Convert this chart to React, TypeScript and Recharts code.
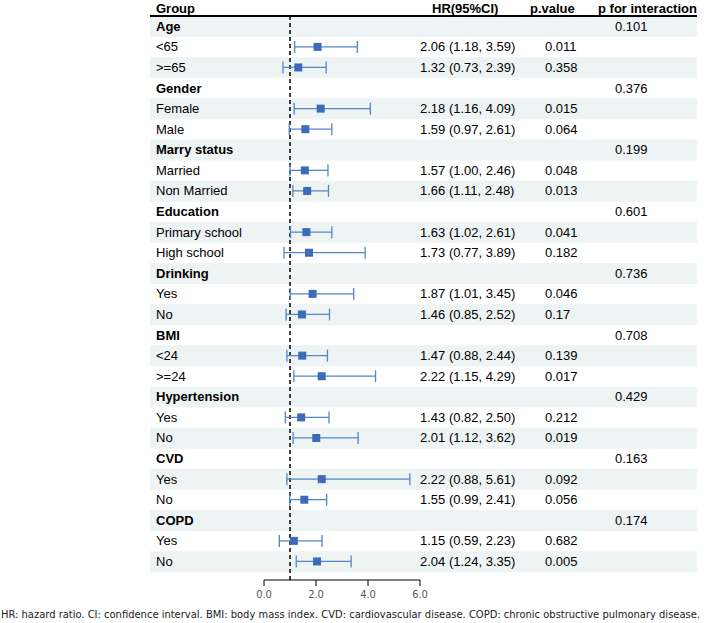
import React from 'react';
import { ComposedChart, Scatter, XAxis, YAxis, ZAxis, ErrorBar, ReferenceLine } from 'recharts';

const groupNames = ['Age', 'Gender', 'Marry status', 'Education', 'Drinking', 'BMI', 'Hypertension', 'CVD', 'COPD'];
const pInteraction = ['0.101', '0.376', '0.199', '0.601', '0.736', '0.708', '0.429', '0.163', '0.174'];
const subLabels = ['<65', '>=65', 'Female', 'Male', 'Married', 'Non Married', 'Primary school', 'High school', 'Yes', 'No', '<24', '>=24', 'Yes', 'No', 'Yes', 'No', 'Yes', 'No'];
const hrValues = [2.06, 1.32, 2.18, 1.59, 1.57, 1.66, 1.63, 1.73, 1.87, 1.46, 1.47, 2.22, 1.43, 2.01, 2.22, 1.55, 1.15, 2.04];
const lowerCI = [1.18, 0.73, 1.16, 0.97, 1.0, 1.11, 1.02, 0.77, 1.01, 0.85, 0.88, 1.15, 0.82, 1.12, 0.88, 0.99, 0.59, 1.24];
const upperCI = [3.59, 2.39, 4.09, 2.61, 2.46, 2.48, 2.61, 3.89, 3.45, 2.52, 2.44, 4.29, 2.5, 3.62, 5.61, 2.41, 2.23, 3.35];
const pValues = ['0.011', '0.358', '0.015', '0.064', '0.048', '0.013', '0.041', '0.182', '0.046', '0.17', '0.139', '0.017', '0.212', '0.019', '0.092', '0.056', '0.682', '0.005'];
const xTicks = [0, 2, 4, 6];
const footnote = 'HR: hazard ratio. CI: confidence interval. BMI: body mass index. CVD: cardiovascular disease. COPD: chronic obstructive pulmonary disease.';

type Row = { idx: number; label: string; isGroup: boolean; pint?: string; hrText?: string; p?: string };

const rows: Row[] = [];
const points: { y: number; hr: number; err: number[] }[] = [];
groupNames.forEach((g, gi) => {
  rows.push({ idx: rows.length, label: g, isGroup: true, pint: pInteraction[gi] });
  for (let k = 0; k < 2; k++) {
    const s = gi * 2 + k;
    const idx = rows.length;
    rows.push({
      idx,
      label: subLabels[s],
      isGroup: false,
      hrText: `${hrValues[s].toFixed(2)} (${lowerCI[s].toFixed(2)}, ${upperCI[s].toFixed(2)})`,
      p: pValues[s],
    });
    points.push({ y: idx, hr: hrValues[s], err: [hrValues[s] - lowerCI[s], upperCI[s] - hrValues[s]] });
  }
});
const rowTicks = rows.map((r) => r.idx);

const FONT = '"Liberation Sans", Arial, sans-serif';
const NARROW = '"Liberation Sans Narrow", "DejaVu Sans Condensed", sans-serif';
const ROW_H = 20.58;
const MARGIN = { top: 16, right: 286, bottom: 18, left: 0 };

const ShadeTick = (props: any) => {
  const { y, payload } = props;
  const row = rows[payload.value];
  if (!row || row.idx % 2 !== 0) return null;
  return <rect x={150} y={y - ROW_H / 2} width={547} height={ROW_H + 0.4} fill="#eef3f4" />;
};

const TextTick = (props: any) => {
  const { y, payload } = props;
  const row = rows[payload.value];
  if (!row) return null;
  return (
    <g fontFamily={FONT} fontSize={13} fill="#000">
      <text x={156} y={y} dominantBaseline="central" fontWeight={row.isGroup ? 'bold' : 'normal'}>
        {row.label}
      </text>
      {row.hrText && (
        <text x={420} y={y} dominantBaseline="central">
          {row.hrText}
        </text>
      )}
      {row.p && (
        <text x={545} y={y} dominantBaseline="central">
          {row.p}
        </text>
      )}
      {row.pint && (
        <text x={615} y={y} dominantBaseline="central">
          {row.pint}
        </text>
      )}
    </g>
  );
};

function RowAxis({ tick }: { tick: any }) {
  return null;
}

export default function App() {
  const yProps = {
    yAxisId: 'r',
    type: 'number' as const,
    dataKey: 'y',
    domain: [-0.5, 26.9],
    allowDataOverflow: true,
    reversed: true,
    ticks: rowTicks,
    interval: 0 as const,
    width: 264,
    axisLine: false,
    tickLine: false,
  };
  return (
    <div style={{ position: 'absolute', left: 0, top: 0, width: 706, height: 623, background: '#fff' }}>
      <div style={{ position: 'absolute', left: 0, top: 0 }}>
        <ComposedChart width={706} height={623} margin={MARGIN}>
          <YAxis {...yProps} tick={<ShadeTick />} />
          <XAxis type="number" dataKey="hr" domain={[0, 6]} allowDataOverflow ticks={xTicks} height={25} axisLine={false} tickLine={false} tick={false} />
          <Scatter yAxisId="r" data={points} fill="none" isAnimationActive={false} />
        </ComposedChart>
      </div>
      <div style={{ position: 'absolute', left: 0, top: 0 }}>
        <ComposedChart width={706} height={623} margin={MARGIN}>
          <YAxis {...yProps} tick={<TextTick />} />
          <XAxis
            type="number"
            dataKey="hr"
            domain={[0, 6]}
            allowDataOverflow
            ticks={xTicks}
            interval={0}
            height={25}
            tickFormatter={(v: number) => v.toFixed(1)}
            axisLine={{ stroke: '#000', strokeWidth: 1 }}
            tickLine={{ stroke: '#000', strokeWidth: 1 }}
            tickSize={6}
            tickMargin={4}
            tick={{ fill: '#555', fontSize: 11, fontFamily: NARROW }}
          />
          <ZAxis range={[34, 34]} />
          <ReferenceLine yAxisId="r" x={1} stroke="#000" strokeWidth={1.5} strokeDasharray="4 3" />
          <Scatter yAxisId="r" data={points} fill="#3b6cb5" shape="square" isAnimationActive={false}>
            <ErrorBar dataKey="err" direction="x" width={6} stroke="#5585c8" strokeWidth={1.3} isAnimationActive={false} />
          </Scatter>
        </ComposedChart>
      </div>
      <svg width={706} height={623} style={{ position: 'absolute', left: 0, top: 0, pointerEvents: 'none' }}>
        <g fontFamily={FONT} fontSize={13} fontWeight="bold" fill="#000">
          <text x={156} y={8} dominantBaseline="central">Group</text>
          <text x={432} y={8} dominantBaseline="central">HR(95%CI)</text>
          <text x={530} y={8} dominantBaseline="central">p.value</text>
          <text x={598} y={8} dominantBaseline="central">p for interaction</text>
        </g>
        <line x1={150} x2={697} y1={16} y2={16} stroke="#000" strokeWidth={2} />
        <text x={1} y={614} dominantBaseline="central" fontFamily={NARROW} fontSize={11} fill="#222" textLength={699} lengthAdjust="spacingAndGlyphs">
          {footnote}
        </text>
      </svg>
    </div>
  );
}
